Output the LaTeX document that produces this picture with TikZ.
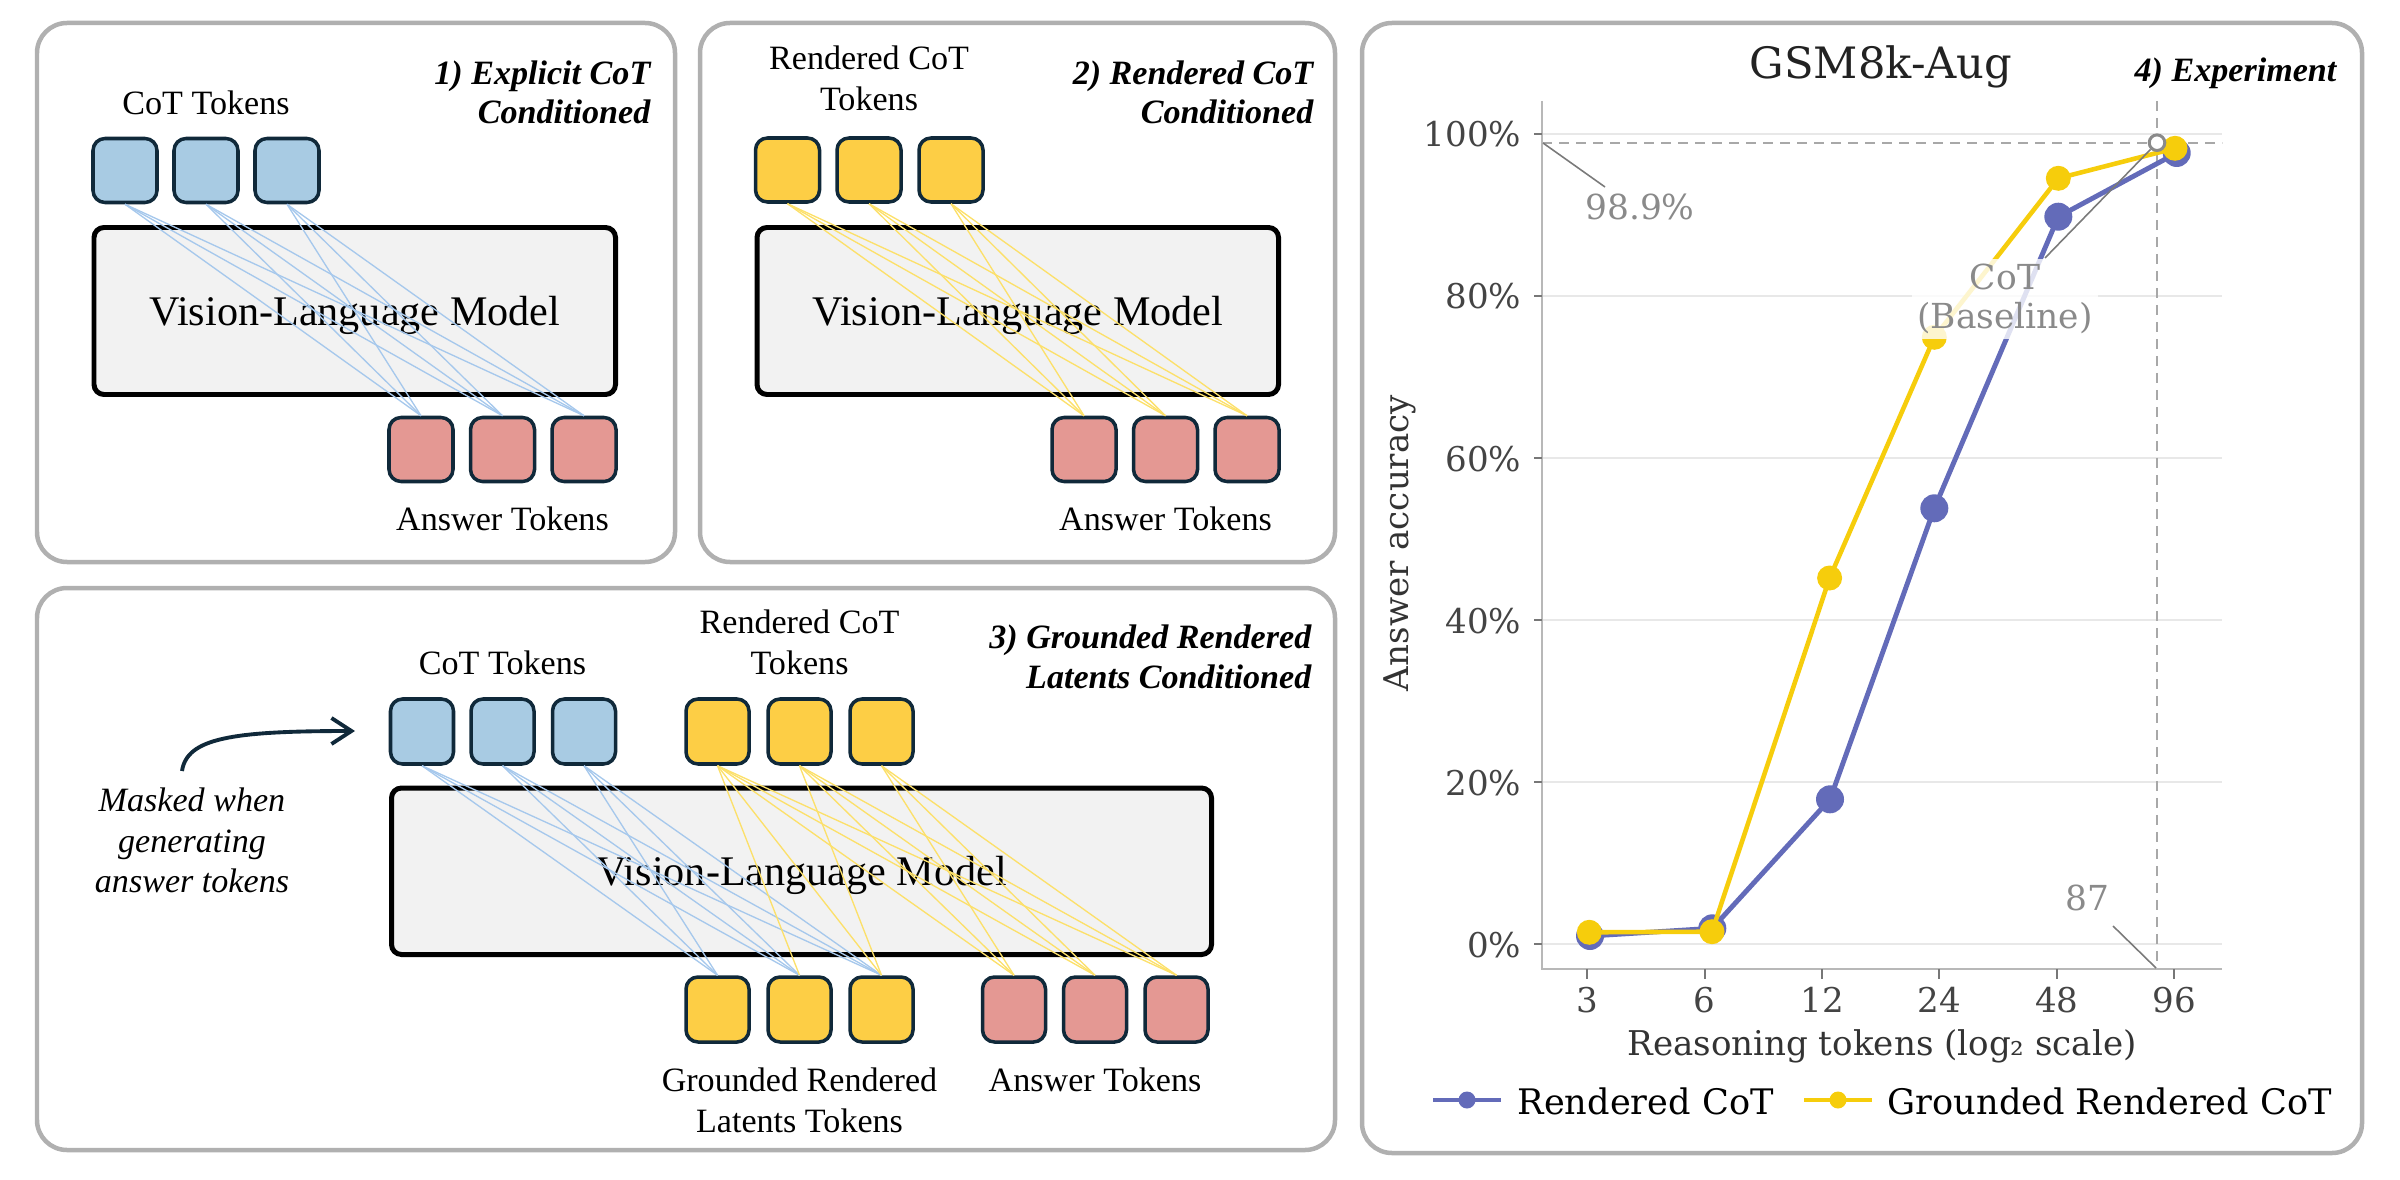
\documentclass[tikz,border=0pt]{standalone}
\usepackage{fontspec}
\setmainfont{Liberation Serif}
\newfontfamily\chartfont{DejaVu Serif}
\usetikzlibrary{arrows.meta}

\definecolor{panelgray}{HTML}{B0B0B0}
\definecolor{tokblue}{HTML}{A8CBE3}
\definecolor{tokyellow}{HTML}{FDCE45}
\definecolor{tokred}{HTML}{E49893}
\definecolor{tokedge}{HTML}{10293A}
\definecolor{vlmfill}{HTML}{F2F2F2}
\definecolor{lnblue}{HTML}{A6C8EC}
\definecolor{lnyellow}{HTML}{FCE06A}
\definecolor{serblue}{HTML}{636BB9}
\definecolor{seryellow}{HTML}{F6CD0C}
\definecolor{gridgray}{HTML}{E8E8E8}
\definecolor{spinegray}{HTML}{B8B8B8}
\definecolor{tickgray}{HTML}{777777}
\definecolor{dashgray}{HTML}{A8A8A8}
\definecolor{annogray}{HTML}{8A8A8A}
\definecolor{leadgray}{HTML}{7A7A7A}
\definecolor{ticktext}{HTML}{444444}
\definecolor{axtext}{HTML}{333333}
\definecolor{titletext}{HTML}{222222}
\definecolor{arrowdark}{HTML}{10293A}

\begin{document}
\begin{tikzpicture}[x=0.1mm,y=-0.1mm,
  panel/.style={draw=panelgray, line width=1.28pt, rounded corners=3mm},
  tokbox/.style={draw=tokedge, line width=1pt, rounded corners=1.2mm, inner sep=0pt, minimum width=6.4mm, minimum height=6.4mm},
  btok/.style={tokbox, fill=tokblue},
  ytok/.style={tokbox, fill=tokyellow},
  rtok/.style={tokbox, fill=tokred},
  tok3/.style={minimum width=6.3mm, minimum height=6.5mm},
  vlm/.style={draw=black, line width=1.42pt, fill=vlmfill, rounded corners=1mm, inner sep=0pt, font=\fontsize{12}{14}\selectfont, text depth=0pt},
  lbl/.style={font=\fontsize{9.7}{11.2}\selectfont, inner sep=0pt, anchor=base},
  ttl/.style={font=\fontsize{9.7}{11.2}\selectfont\bfseries\itshape, inner sep=0pt, anchor=base east},
  note/.style={font=\fontsize{9.7}{11.2}\selectfont\itshape, inner sep=0pt, anchor=base},
  cblue/.style={draw=lnblue, line width=0.38pt},
  cyel/.style={draw=lnyellow, line width=0.38pt},
  maskarrow/.style={draw=arrowdark, line width=1.1pt, -{Straight Barb[length=2mm,width=2.6mm]}},
  gridln/.style={draw=gridgray, line width=0.5pt},
  spine/.style={draw=spinegray, line width=0.6pt},
  tickmk/.style={draw=tickgray, line width=0.5pt},
  dashref/.style={draw=dashgray, line width=0.6pt, dash pattern=on 1mm off 0.7mm},
  ytl/.style={font=\chartfont\fontsize{9.7}{11}\selectfont, text=ticktext, inner sep=0pt, anchor=base east},
  xtl/.style={font=\chartfont\fontsize{9.7}{11}\selectfont, text=ticktext, inner sep=0pt, anchor=base},
  axlbl/.style={font=\chartfont\fontsize{9.7}{11}\selectfont, text=axtext, inner sep=0pt, anchor=base},
  legtxt/.style={font=\chartfont\fontsize{10}{11}\selectfont, text=black, inner sep=0pt, anchor=base west},
  bser/.style={draw=serblue, line width=1.4pt, line join=round},
  yser/.style={draw=seryellow, line width=1.3pt, line join=round},
  bdot/.style={circle, fill=serblue, inner sep=0pt, minimum size=2.8mm},
  ydot/.style={circle, fill=seryellow, inner sep=0pt, minimum size=2.5mm},
  lead/.style={draw=leadgray, line width=0.45pt},
  anno/.style={font=\chartfont\fontsize{9.8}{11.1}\selectfont, text=annogray, inner sep=0pt}
]
\useasboundingbox (0,0) rectangle (2400,1180);

% ---------------- panel frames ----------------
\draw[panel] (37,23) rectangle (675,562);
\draw[panel] (700,23) rectangle (1335,562);
\draw[panel] (37,588) rectangle (1335,1150);
\draw[panel] (1362,23) rectangle (2362,1153);

% ---------------- panel 1 ----------------
\node[vlm, minimum width=52.15mm, minimum height=16.7mm] (p1v) at (354.75,311) {Vision-Language Model};
\node[btok] (p1b1) at (125,170.5) {};
\node[btok] (p1b2) at (206,170.5) {};
\node[btok] (p1b3) at (287,170.5) {};
\node[rtok] (p1r1) at (421,449.5) {};
\node[rtok] (p1r2) at (502.5,449.5) {};
\node[rtok] (p1r3) at (584,449.5) {};
\foreach \i in {1,2,3}{\foreach \j in {1,2,3}{\draw[cblue] (p1b\i.south) -- (p1r\j.north);}}
\node[lbl] (p1cl) at (206,115) {CoT Tokens};
\node[lbl] (p1al) at (502.5,530) {Answer Tokens};
\node[ttl] (p1t1) at (651,85) {1) Explicit CoT};
\node[ttl] (p1t2) at (651,124) {Conditioned};

% ---------------- panel 2 ----------------
\node[vlm, minimum width=52.15mm, minimum height=16.7mm] (p2v) at (1017.75,311) {Vision-Language Model};
\node[ytok] (p2y1) at (787.5,170) {};
\node[ytok] (p2y2) at (869,170) {};
\node[ytok] (p2y3) at (951,170) {};
\node[rtok] (p2r1) at (1084,449.5) {};
\node[rtok] (p2r2) at (1165.5,449.5) {};
\node[rtok] (p2r3) at (1247,449.5) {};
\foreach \i in {1,2,3}{\foreach \j in {1,2,3}{\draw[cyel] (p2y\i.south) -- (p2r\j.north);}}
\node[lbl] (p2cl1) at (869,70) {Rendered CoT};
\node[lbl] (p2cl2) at (869,111) {Tokens};
\node[lbl] (p2al) at (1165.5,530) {Answer Tokens};
\node[ttl] (p2t1) at (1314,85) {2) Rendered CoT};
\node[ttl] (p2t2) at (1314,124) {Conditioned};

% ---------------- panel 3 ----------------
\node[vlm, minimum width=82mm, minimum height=16.65mm] (p3v) at (801.5,871.25) {Vision-Language Model};
\node[btok,tok3] (p3b1) at (422,731.5) {};
\node[btok,tok3] (p3b2) at (502.5,731.5) {};
\node[btok,tok3] (p3b3) at (584,731.5) {};
\node[ytok,tok3] (p3y1) at (717.5,731.5) {};
\node[ytok,tok3] (p3y2) at (799.5,731.5) {};
\node[ytok,tok3] (p3y3) at (881.5,731.5) {};
\node[ytok,tok3] (p3g1) at (717.5,1009.5) {};
\node[ytok,tok3] (p3g2) at (799.5,1009.5) {};
\node[ytok,tok3] (p3g3) at (881.5,1009.5) {};
\node[rtok,tok3] (p3r1) at (1014,1009.5) {};
\node[rtok,tok3] (p3r2) at (1095,1009.5) {};
\node[rtok,tok3] (p3r3) at (1176.5,1009.5) {};
\foreach \i in {1,2,3}{\foreach \j in {1,2,3}{\draw[cblue] (p3b\i.south) -- (p3g\j.north);}}
\draw[cyel] (p3y1.south) -- (p3g2.north);
\draw[cyel] (p3y1.south) -- (p3g3.north);
\draw[cyel] (p3y2.south) -- (p3g3.north);
\foreach \i in {1,2,3}{\foreach \j in {1,2,3}{\draw[cyel] (p3y\i.south) -- (p3r\j.north);}}
\node[lbl] (p3cl) at (502.5,674) {CoT Tokens};
\node[lbl] (p3rl1) at (799.5,633) {Rendered CoT};
\node[lbl] (p3rl2) at (799.5,674) {Tokens};
\node[lbl] (p3gl1) at (799.5,1091) {Grounded Rendered};
\node[lbl] (p3gl2) at (799.5,1132) {Latents Tokens};
\node[lbl] (p3al) at (1095,1091) {Answer Tokens};
\node[ttl] (p3t1) at (1312,648) {3) Grounded Rendered};
\node[ttl] (p3t2) at (1312,688) {Latents Conditioned};
\node[note] (p3m1) at (192,811.5) {Masked when};
\node[note] (p3m2) at (192,852.5) {generating};
\node[note] (p3m3) at (192,892) {answer tokens};
\coordinate (mstart) at (182,771);
\coordinate (mend) at (355,731);
\draw[maskarrow] (mstart) .. controls (187,738) and (232,731) .. (mend);

% ---------------- panel 4: chart ----------------
\node[font=\chartfont\fontsize{12.3}{14}\selectfont, text=titletext, inner sep=0pt, anchor=base] (ctitle) at (1881,79) {GSM8k-Aug};
\node[ttl] (p4t) at (2337,82) {4) Experiment};

% grid
\foreach \yy in {944.3,782.3,620.3,458.3,296.3,134.3}{\draw[gridln] (1542,\yy) -- (2222,\yy);}
% reference lines
\draw[dashref] (2157,101) -- (2157,969);
\draw[dashref] (1542,142.7) -- (2222,142.7);
% spines
\draw[spine] (1542,101) -- (1542,969) -- (2222,969);
% y ticks
\foreach \yy/\tx/\nm in {944.3/0/a,782.3/20/b,620.3/40/c,458.3/60/d,296.3/80/e,134.3/100/f}{
  \draw[tickmk] (1534,\yy) -- (1542,\yy);
  \node[ytl] (yt\nm) at (1522,\yy+12.7) {\tx\%};
}
% x ticks
\foreach \xx/\tx/\nm in {1587.3/3/a,1704.6/6/b,1822/12/c,1939.3/24/d,2056.7/48/e,2174/96/f}{
  \draw[tickmk] (\xx,969) -- (\xx,979);
  \node[xtl] (xt\nm) at (\xx,1012.5) {\tx};
}
\node[axlbl] (xlab) at (1882,1055) {Reasoning tokens (log₂ scale)};
\node[axlbl, rotate=90] (ylab) at (1408,543) {Answer accuracy};

% series: Rendered CoT
\coordinate (b1) at (1590,936);
\coordinate (b2) at (1712.3,928.3);
\coordinate (b3) at (1830,799.3);
\coordinate (b4) at (1934.3,508.3);
\coordinate (b5) at (2058.3,216.7);
\coordinate (b6) at (2176.7,153);
\draw[bser] (b1) -- (b2) -- (b3) -- (b4) -- (b5) -- (b6);
\foreach \k in {1,...,6}{\node[bdot] (bm\k) at (b\k) {};}
% series: Grounded Rendered CoT
\coordinate (c1) at (1589.3,932.3);
\coordinate (c2) at (1712,931.7);
\coordinate (c3) at (1829.6,578);
\coordinate (c4) at (1934.3,337.3);
\coordinate (c5) at (2058.3,178.3);
\coordinate (c6) at (2175,148.3);
\draw[yser] (c1) -- (c2) -- (c3) -- (c4) -- (c5) -- (c6);
\foreach \k in {1,...,6}{\node[ydot] (cm\k) at (c\k) {};}

% annotations
\node[anno, anchor=base] (a989) at (1640,220) {98.9\%};
\coordinate (h989) at (1543,143);
\coordinate (l989) at (1605,187);
\draw[lead] (h989) -- (l989);
\node[anno, align=center, fill=white, fill opacity=0.8, text opacity=1, inner sep=0.5mm] (cotbl) at (2005,299) {CoT\\(Baseline)};
\node[circle, draw=annogray, line width=0.85pt, fill=white, minimum size=1.56mm, inner sep=0pt] (ring) at (2157,142.7) {};
\coordinate (lcot) at (2045,258);
\draw[lead] (lcot) -- (ring);
\node[anno, anchor=base] (a87) at (2087,910) {87};
\coordinate (l87a) at (2113,926);
\coordinate (l87b) at (2156,968);
\draw[lead] (l87a) -- (l87b);

% legend
\coordinate (lb1) at (1433,1100);
\coordinate (lb2) at (1501,1100);
\draw[draw=serblue, line width=1.15pt] (lb1) -- (lb2);
\node[bdot, minimum size=1.7mm] (lbd) at (1467,1100) {};
\node[legtxt] (lbt) at (1517,1114) {Rendered CoT};
\coordinate (ly1) at (1804,1100);
\coordinate (ly2) at (1872,1100);
\draw[draw=seryellow, line width=1.15pt] (ly1) -- (ly2);
\node[ydot, minimum size=1.7mm] (lyd) at (1838,1100) {};
\node[legtxt] (lyt) at (1887,1114) {Grounded Rendered CoT};
\end{tikzpicture}
\end{document}
